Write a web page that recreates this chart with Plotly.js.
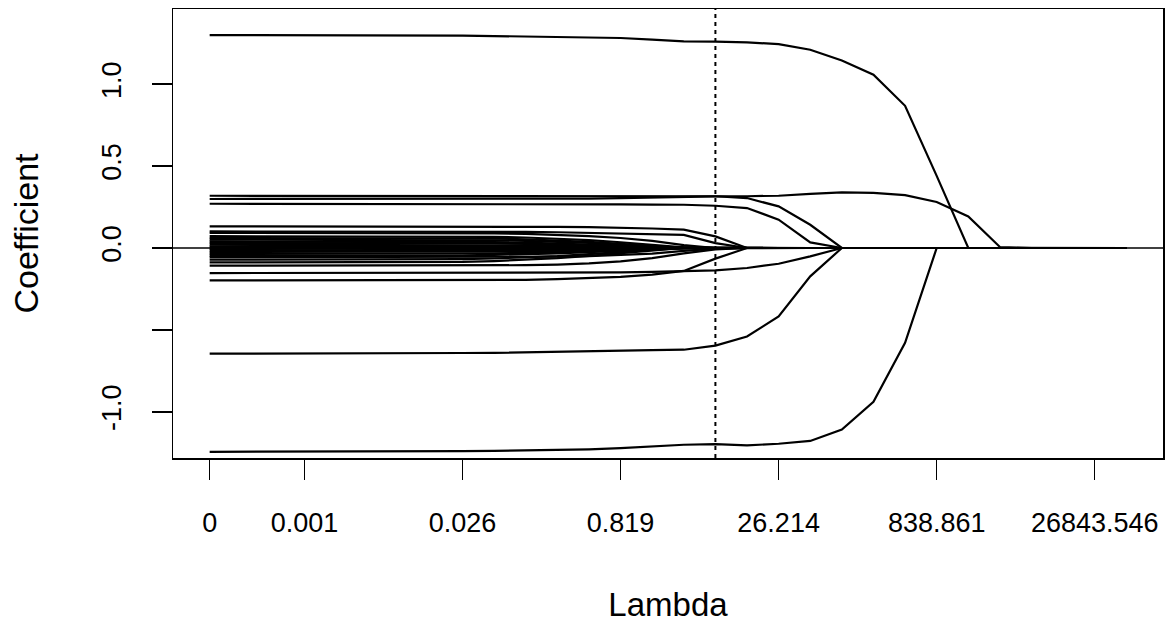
<!DOCTYPE html>
<html>
<head>
<meta charset="utf-8">
<script src="https://cdn.plot.ly/plotly-3.0.1.min.js"></script>
<style>html,body{margin:0;padding:0;background:#fff;}#chart{width:1166px;height:626px;}</style>
</head>
<body>
<div id="chart"></div>
<script>
// Lambda grid (path index 0..29)
const lambda = [0, 0.0002, 0.0004, 0.0008, 0.0016, 0.0032, 0.0064, 0.0128, 0.0256, 0.0512,
  0.1024, 0.2048, 0.4096, 0.8192, 1.6384, 3.2768, 6.5536, 13.1072, 26.2144, 52.4288,
  104.8576, 209.7152, 419.4304, 838.8608, 1677.7216, 3355.4432, 6710.8864, 13421.7728, 26843.5456, 53687.0912];
const tickLambdaIndex = [0, 3, 8, 13, 18, 23, 28];
const chosenLambda = 6.5536;

// Coefficient paths
const coefTop = [1.300,1.300,1.300,1.300,1.299,1.299,1.298,1.297,1.296,1.294,1.292,1.290,1.287,1.282,1.272,1.261,1.260,1.255,1.245,1.210,1.145,1.058,0.868,0.440,0,0,0,0,0,0];
const coefBottom = [-1.244,-1.244,-1.244,-1.244,-1.243,-1.243,-1.242,-1.241,-1.240,-1.238,-1.236,-1.233,-1.229,-1.222,-1.212,-1.201,-1.197,-1.205,-1.195,-1.178,-1.109,-0.939,-0.579,0,0,0,0,0,0,0];
const coefNeg065 = [-0.645,-0.645,-0.645,-0.645,-0.644,-0.644,-0.643,-0.642,-0.641,-0.640,-0.636,-0.632,-0.628,-0.625,-0.623,-0.621,-0.596,-0.540,-0.418,-0.173,0,0,0,0,0,0,0,0,0,0];
const coefA = [0.299,0.299,0.299,0.299,0.299,0.299,0.299,0.299,0.299,0.299,0.299,0.300,0.302,0.305,0.309,0.312,0.315,0.316,0.319,0.331,0.340,0.336,0.323,0.281,0.193,0.006,0,0,0,0];
const coefB = [0.319,0.319,0.319,0.319,0.319,0.319,0.319,0.319,0.319,0.319,0.319,0.319,0.318,0.318,0.317,0.317,0.316,0.305,0.254,0.142,0,0,0,0,0,0,0,0,0,0];
const coefC = [0.270,0.270,0.270,0.270,0.270,0.270,0.270,0.270,0.269,0.269,0.268,0.268,0.267,0.266,0.265,0.264,0.258,0.244,0.173,0.034,0,0,0,0,0,0,0,0,0,0];
const coefD = [0.132,0.132,0.132,0.132,0.132,0.132,0.132,0.132,0.132,0.131,0.130,0.129,0.127,0.124,0.119,0.112,0.071,0,0,0,0,0,0,0,0,0,0,0,0,0];
const coefE = [0.101,0.101,0.101,0.101,0.101,0.101,0.101,0.101,0.101,0.100,0.098,0.096,0.093,0.090,0.086,0.080,0.030,0,0,0,0,0,0,0,0,0,0,0,0,0];
const coefH = [0.092,0.092,0.092,0.092,0.092,0.092,0.092,0.092,0.091,0.089,0.086,0.081,0.073,0.061,0.043,0.018,0,0,0,0,0,0,0,0,0,0,0,0,0,0];
const coefH2 = [0.072,0.072,0.072,0.072,0.072,0.072,0.072,0.071,0.070,0.068,0.064,0.058,0.048,0.035,0.019,0.004,0,0,0,0,0,0,0,0,0,0,0,0,0,0];
const coefI = [0.061,0.061,0.061,0.061,0.061,0.061,0.061,0.060,0.059,0.057,0.053,0.047,0.038,0.026,0.012,0,0,0,0,0,0,0,0,0,0,0,0,0,0,0];
const coefJ = [0.051,0.051,0.051,0.051,0.051,0.051,0.051,0.050,0.049,0.047,0.044,0.039,0.031,0.021,0.009,0.002,0,0,0,0,0,0,0,0,0,0,0,0,0,0];
const coefJ2 = [0.040,0.040,0.040,0.040,0.040,0.040,0.040,0.039,0.038,0.036,0.033,0.028,0.022,0.014,0.006,0,0,0,0,0,0,0,0,0,0,0,0,0,0,0];
const coefL1 = [0.031,0.031,0.031,0.031,0.031,0.031,0.031,0.030,0.029,0.028,0.025,0.022,0.017,0.011,0.005,0,0,0,0,0,0,0,0,0,0,0,0,0,0,0];
const coefL2 = [0.020,0.020,0.020,0.020,0.020,0.020,0.020,0.020,0.019,0.018,0.016,0.014,0.011,0.007,0.003,0,0,0,0,0,0,0,0,0,0,0,0,0,0,0];
const coefL3 = [0.010,0.010,0.010,0.010,0.010,0.010,0.010,0.010,0.010,0.009,0.008,0.007,0.005,0.004,0.002,0,0,0,0,0,0,0,0,0,0,0,0,0,0,0];
const coefL4 = [0.003,0.003,0.003,0.003,0.003,0.003,0.003,0.003,0.003,0.003,0.002,0.002,0.002,0.001,0,0,0,0,0,0,0,0,0,0,0,0,0,0,0,0];
const coefL5 = [-0.006,-0.006,-0.006,-0.006,-0.006,-0.006,-0.006,-0.006,-0.006,-0.005,-0.005,-0.004,-0.003,-0.002,-0.001,0,0,0,0,0,0,0,0,0,0,0,0,0,0,0];
const coefL6 = [-0.015,-0.015,-0.015,-0.015,-0.015,-0.015,-0.015,-0.015,-0.014,-0.014,-0.012,-0.011,-0.008,-0.005,-0.002,0,0,0,0,0,0,0,0,0,0,0,0,0,0,0];
const coefL7 = [-0.025,-0.025,-0.025,-0.025,-0.025,-0.025,-0.025,-0.025,-0.024,-0.023,-0.021,-0.018,-0.014,-0.009,-0.004,0,0,0,0,0,0,0,0,0,0,0,0,0,0,0];
const coefL8 = [-0.036,-0.036,-0.036,-0.036,-0.036,-0.036,-0.036,-0.035,-0.034,-0.032,-0.030,-0.025,-0.019,-0.013,-0.005,0,0,0,0,0,0,0,0,0,0,0,0,0,0,0];
const coefL9 = [-0.047,-0.047,-0.047,-0.047,-0.047,-0.047,-0.047,-0.046,-0.045,-0.042,-0.039,-0.033,-0.025,-0.016,-0.007,0,0,0,0,0,0,0,0,0,0,0,0,0,0,0];
const coefL10 = [-0.056,-0.056,-0.056,-0.056,-0.056,-0.056,-0.056,-0.056,-0.056,-0.055,-0.054,-0.053,-0.050,-0.044,-0.034,-0.018,-0.004,0,0,0,0,0,0,0,0,0,0,0,0,0];
const coefL11 = [-0.071,-0.071,-0.071,-0.071,-0.071,-0.071,-0.071,-0.070,-0.068,-0.064,-0.058,-0.050,-0.038,-0.025,-0.011,0,0,0,0,0,0,0,0,0,0,0,0,0,0,0];
const coefL12 = [-0.088,-0.088,-0.088,-0.088,-0.088,-0.088,-0.088,-0.087,-0.085,-0.080,-0.072,-0.062,-0.048,-0.031,-0.013,0,0,0,0,0,0,0,0,0,0,0,0,0,0,0];
const coefK = [-0.108,-0.108,-0.108,-0.108,-0.108,-0.108,-0.108,-0.108,-0.108,-0.107,-0.105,-0.101,-0.094,-0.082,-0.062,-0.033,-0.008,0,0,0,0,0,0,0,0,0,0,0,0,0];
const coefF = [-0.153,-0.153,-0.153,-0.153,-0.153,-0.153,-0.153,-0.153,-0.153,-0.153,-0.153,-0.152,-0.151,-0.149,-0.146,-0.143,-0.137,-0.122,-0.096,-0.051,0,0,0,0,0,0,0,0,0,0];
const coefG = [-0.198,-0.198,-0.198,-0.198,-0.198,-0.198,-0.198,-0.198,-0.197,-0.196,-0.194,-0.190,-0.184,-0.176,-0.162,-0.140,-0.065,0,0,0,0,0,0,0,0,0,0,0,0,0];

const yTickVals = [-1, -0.5, 0, 0.5, 1];
const yTickText = ["-1.0", "", "0.0", "0.5", "1.0"];

const paths = [coefTop, coefBottom, coefNeg065, coefA, coefB, coefC, coefD, coefE, coefH, coefH2, coefI, coefJ, coefJ2,
  coefL1, coefL2, coefL3, coefL4, coefL5, coefL6, coefL7, coefL8, coefL9, coefL10, coefL11, coefL12,
  coefK, coefF, coefG];

const idx = lambda.map((_, i) => i);
const FONT = "Liberation Sans, Arial, Helvetica, sans-serif";

const traces = paths.map(p => ({
  x: idx, y: p, type: 'scatter', mode: 'lines',
  line: {color: '#000', width: 2.2}, hoverinfo: 'skip', showlegend: false
}));

const fmt = v => String(Number(v.toFixed(3)));
const chosenIdx = lambda.indexOf(chosenLambda);

const layout = {
  width: 1166, height: 626,
  margin: {l: 173, r: 3, t: 9, b: 168, pad: 0},
  paper_bgcolor: '#fff', plot_bgcolor: '#fff',
  font: {family: FONT, color: '#000', size: 27},
  showlegend: false,
  xaxis: {
    range: [-1.16, 30.16], showgrid: false, zeroline: false,
    tickmode: 'array', tickvals: tickLambdaIndex, ticktext: tickLambdaIndex.map(i => fmt(lambda[i])),
    ticks: 'outside', ticklen: 20, tickwidth: 1.5, tickcolor: '#000', ticklabelstandoff: 20,
    showline: true, mirror: true, linecolor: '#000', linewidth: 1.5,
    tickfont: {family: FONT, size: 27, color: '#000'},
    title: {text: 'Lambda', font: {family: FONT, size: 33, color: '#000'}, standoff: 56}
  },
  yaxis: {
    range: [-1.282, 1.459], showgrid: false, zeroline: false,
    tickmode: 'array', tickvals: yTickVals, ticktext: yTickText, tickangle: -90,
    ticks: 'outside', ticklen: 20, tickwidth: 1.5, tickcolor: '#000', ticklabelstandoff: 20,
    showline: true, mirror: true, linecolor: '#000', linewidth: 1.5,
    tickfont: {family: FONT, size: 27, color: '#000'},
    title: {text: 'Coefficient', font: {family: FONT, size: 34, color: '#000'}, standoff: 48}
  },
  shapes: [
    {type: 'line', xref: 'paper', x0: 0, x1: 1, yref: 'y', y0: 0, y1: 0, line: {color: '#000', width: 1.5}},
    {type: 'line', xref: 'x', x0: chosenIdx, x1: chosenIdx, yref: 'paper', y0: 0, y1: 1, line: {color: '#000', width: 2, dash: '4px,4px'}}
  ]
};

Plotly.newPlot('chart', traces, layout, {displayModeBar: false, staticPlot: true});
</script>
</body>
</html>
